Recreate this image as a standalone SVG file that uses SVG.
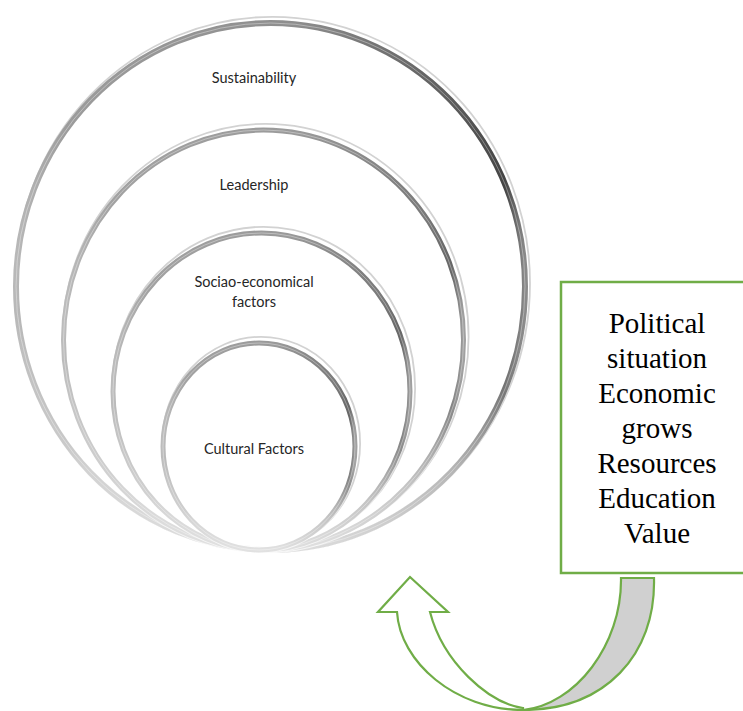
<svg xmlns="http://www.w3.org/2000/svg" width="743" height="711" viewBox="0 0 743 711">
  <style>
    .lbl { font-family: Lato, "Open Sans", "Liberation Sans", sans-serif; font-size: 14.5px; fill: #262626; text-anchor: middle; }
    .box-txt { font-family: "Liberation Serif", "Times New Roman", serif; font-size: 29px; fill: #000000; text-anchor: middle; }
    .refl { fill: none; stroke: #d2d2d2; stroke-width: 1.8; }
    .tube { fill: none; stroke: url(#gh); stroke-width: 5; }
    .tube-outer { fill: none; stroke: url(#gho); stroke-width: 6; }
    .hl { fill: none; stroke: #ffffff; stroke-width: 1; stroke-opacity: 0.35; }
    .fade { fill: none; stroke: url(#gv); stroke-width: 7; }
    .arrow { stroke: #70AD47; stroke-width: 2.2; stroke-linejoin: miter; }
  </style>
  <defs>
    <linearGradient id="gh" x1="0" y1="0" x2="1" y2="0">
      <stop offset="0" stop-color="#bcbcbc"/>
      <stop offset="0.12" stop-color="#a2a2a2"/>
      <stop offset="0.6" stop-color="#999999"/>
      <stop offset="0.9" stop-color="#7a7a7a"/>
      <stop offset="0.97" stop-color="#666666"/>
      <stop offset="1" stop-color="#a0a0a0"/>
    </linearGradient>
    <linearGradient id="gho" x1="0" y1="0" x2="1" y2="0">
      <stop offset="0" stop-color="#b8b8b8"/>
      <stop offset="0.1" stop-color="#9c9c9c"/>
      <stop offset="0.55" stop-color="#8e8e8e"/>
      <stop offset="0.85" stop-color="#5e5e5e"/>
      <stop offset="0.96" stop-color="#444444"/>
      <stop offset="1" stop-color="#8a8a8a"/>
    </linearGradient>
    <linearGradient id="gv" x1="0" y1="0" x2="0" y2="1">
      <stop offset="0" stop-color="#ffffff" stop-opacity="0"/>
      <stop offset="0.55" stop-color="#ffffff" stop-opacity="0"/>
      <stop offset="0.85" stop-color="#ffffff" stop-opacity="0.55"/>
      <stop offset="1" stop-color="#ffffff" stop-opacity="0.7"/>
    </linearGradient>
  </defs>

  <g id="ring-sustainability">
    <ellipse class="refl" cx="272.6" cy="283.4" rx="257.4" ry="266.6"/>
    <ellipse class="tube-outer" cx="270.5" cy="286.5" rx="254.5" ry="263.5"/>
    <ellipse class="hl" cx="270.5" cy="286.5" rx="254.5" ry="263.5"/>
    <ellipse class="fade" cx="270.5" cy="286.5" rx="254.5" ry="263.5"/>
    <text class="lbl" x="254" y="83">Sustainability</text>
  </g>
  <g id="ring-leadership">
    <ellipse class="refl" cx="265.6" cy="336.9" rx="203" ry="213.1"/>
    <ellipse class="tube" cx="263.5" cy="340" rx="200" ry="210"/>
    <ellipse class="hl" cx="263.5" cy="340" rx="200" ry="210"/>
    <ellipse class="fade" cx="263.5" cy="340" rx="200" ry="210"/>
    <text class="lbl" x="254" y="190">Leadership</text>
  </g>
  <g id="ring-socio">
    <ellipse class="refl" cx="263.6" cy="388.4" rx="151.5" ry="161.6"/>
    <ellipse class="tube" cx="261.5" cy="391.5" rx="148.5" ry="158.5"/>
    <ellipse class="hl" cx="261.5" cy="391.5" rx="148.5" ry="158.5"/>
    <ellipse class="fade" cx="261.5" cy="391.5" rx="148.5" ry="158.5"/>
    <text class="lbl" x="254" y="287">Sociao-economical</text>
    <text class="lbl" x="254" y="307">factors</text>
  </g>
  <g id="ring-cultural">
    <ellipse class="refl" cx="261.1" cy="443.4" rx="99" ry="106.6"/>
    <ellipse class="tube" cx="259" cy="446.5" rx="96" ry="103.5"/>
    <ellipse class="hl" cx="259" cy="446.5" rx="96" ry="103.5"/>
    <ellipse class="fade" cx="259" cy="446.5" rx="96" ry="103.5"/>
    <text class="lbl" x="254" y="454">Cultural Factors</text>
  </g>

  <g id="factors-box">
    <rect x="561" y="282" width="200" height="291" fill="#ffffff" stroke="#70AD47" stroke-width="2.5"/>
    <text class="box-txt" x="657" y="333">Political</text>
    <text class="box-txt" x="657" y="368">situation</text>
    <text class="box-txt" x="657" y="403">Economic</text>
    <text class="box-txt" x="657" y="438">grows</text>
    <text class="box-txt" x="657" y="473">Resources</text>
    <text class="box-txt" x="657" y="508">Education</text>
    <text class="box-txt" x="657" y="543">Value</text>
  </g>

  <g id="connectors">
    <path class="arrow" fill="#d0d0d0" d="M621,578 L654,578 C656,655 605,710 523,710 C575,705 622,645 621,578 Z"/>
    <path class="arrow" fill="#ffffff" d="M397,612 L378,612 L410,577 L448,612 L430,612 C443,662 488,703 523,708 C 523,709 523,710 523,710 C455,710 400,662 397,612 Z"/>
  </g>
</svg>
